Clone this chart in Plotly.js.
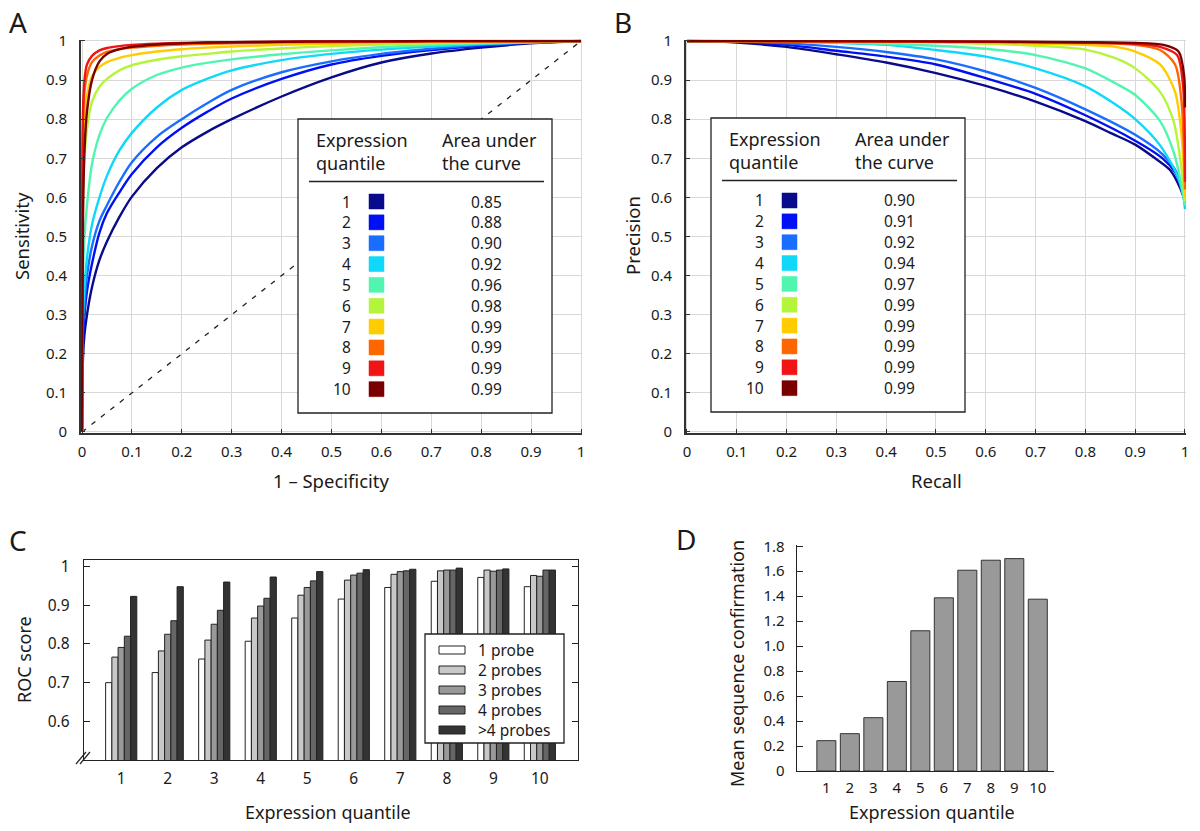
<!DOCTYPE html>
<html><head><meta charset="utf-8">
<script src="https://cdn.plot.ly/plotly-3.0.1.min.js"></script>
<style>html,body{margin:0;padding:0;background:#fff}#chart{width:1200px;height:831px}</style>
</head><body><div id="chart"></div>
<script>
// ---------------- DATA ----------------
const quantiles = [1, 2, 3, 4, 5, 6, 7, 8, 9, 10];
const quantileColors = ['#0a0a8c', '#0010f5', '#1a6eff', '#10d8f8', '#50f5b0', '#b4f53c', '#ffcc00', '#ff6600', '#f01414', '#7a0000'];
const aucROC = ['0.85', '0.88', '0.90', '0.92', '0.96', '0.98', '0.99', '0.99', '0.99', '0.99'];
const aucPR  = ['0.90', '0.91', '0.92', '0.94', '0.97', '0.99', '0.99', '0.99', '0.99', '0.99'];

// Panel A: ROC curves, sensitivity read at these values of 1 - specificity
const rocFpr    = [0, 0.002, 0.005, 0.01, 0.02, 0.035, 0.05, 0.075, 0.1, 0.15, 0.2, 0.25, 0.3, 0.4, 0.5, 0.6, 0.7, 0.8, 0.9, 1];
const rocQ1Tpr  = [0, 0.19, 0.25, 0.30, 0.37, 0.44, 0.487, 0.55, 0.602, 0.675, 0.728, 0.767, 0.80, 0.858, 0.907, 0.945, 0.968, 0.983, 0.994, 1];
const rocQ2Tpr  = [0, 0.24, 0.30, 0.36, 0.43, 0.51, 0.56, 0.613, 0.66, 0.728, 0.778, 0.818, 0.853, 0.903, 0.94, 0.962, 0.977, 0.988, 0.996, 1];
const rocQ3Tpr  = [0, 0.27, 0.33, 0.40, 0.475, 0.54, 0.58, 0.64, 0.69, 0.755, 0.80, 0.84, 0.875, 0.92, 0.948, 0.967, 0.98, 0.99, 0.996, 1];
const rocQ4Tpr  = [0, 0.30, 0.37, 0.445, 0.53, 0.60, 0.655, 0.72, 0.765, 0.83, 0.875, 0.903, 0.925, 0.951, 0.967, 0.978, 0.986, 0.992, 0.997, 1];
const rocQ5Tpr  = [0, 0.40, 0.50, 0.58, 0.685, 0.76, 0.803, 0.848, 0.878, 0.913, 0.932, 0.944, 0.953, 0.966, 0.976, 0.984, 0.99, 0.994, 0.997, 1];
const rocQ6Tpr  = [0, 0.60, 0.70, 0.775, 0.845, 0.883, 0.903, 0.925, 0.938, 0.952, 0.961, 0.967, 0.973, 0.981, 0.987, 0.991, 0.994, 0.997, 0.999, 1];
const rocQ7Tpr  = [0, 0.70, 0.79, 0.862, 0.91, 0.934, 0.946, 0.957, 0.964, 0.973, 0.979, 0.983, 0.986, 0.99, 0.993, 0.995, 0.997, 0.998, 0.999, 1];
const rocQ8Tpr  = [0, 0.78, 0.87, 0.912, 0.946, 0.963, 0.972, 0.979, 0.983, 0.988, 0.991, 0.993, 0.994, 0.996, 0.997, 0.998, 0.999, 0.999, 1, 1];
const rocQ9Tpr  = [0, 0.82, 0.90, 0.94, 0.962, 0.976, 0.982, 0.987, 0.99, 0.993, 0.995, 0.996, 0.997, 0.998, 0.999, 0.999, 1, 1, 1, 1];
const rocQ10Tpr = [0, 0.55, 0.72, 0.82, 0.90, 0.948, 0.967, 0.979, 0.985, 0.991, 0.994, 0.996, 0.997, 0.998, 0.999, 0.999, 1, 1, 1, 1];
const chanceLine = [0, 1];

// Panel B: precision-recall curves
const prQ1Rec = [0, 0.05, 0.1, 0.2, 0.3, 0.4, 0.5, 0.6, 0.7, 0.8, 0.85, 0.9, 0.94, 0.97, 0.99, 1];
const prQ1Prec = [1, 0.999, 0.996, 0.985, 0.966, 0.945, 0.918, 0.885, 0.845, 0.795, 0.765, 0.735, 0.70, 0.67, 0.625, 0.59];
const prQ2Rec = [0, 0.1, 0.2, 0.3, 0.4, 0.5, 0.6, 0.7, 0.8, 0.9, 0.955, 0.98, 0.995, 1];
const prQ2Prec = [1, 0.998, 0.99, 0.975, 0.96, 0.94, 0.905, 0.865, 0.81, 0.745, 0.70, 0.665, 0.62, 0.59];
const prQ3Rec = [0, 0.1, 0.2, 0.3, 0.4, 0.5, 0.6, 0.7, 0.8, 0.9, 0.955, 0.985, 0.997, 1];
const prQ3Prec = [1, 0.999, 0.994, 0.985, 0.972, 0.953, 0.922, 0.88, 0.825, 0.76, 0.71, 0.66, 0.61, 0.58];
const prQ4Rec = [0, 0.2, 0.4, 0.5, 0.6, 0.7, 0.8, 0.86, 0.9, 0.95, 0.984, 0.997, 1];
const prQ4Prec = [1, 0.998, 0.99, 0.977, 0.96, 0.93, 0.884, 0.838, 0.80, 0.733, 0.657, 0.60, 0.57];
const prQ5Rec = [0, 0.3, 0.5, 0.6, 0.7, 0.8, 0.86, 0.9, 0.95, 0.977, 0.993, 1];
const prQ5Prec = [1, 0.997, 0.988, 0.98, 0.964, 0.93, 0.892, 0.862, 0.795, 0.717, 0.632, 0.58];
const prQ6Rec = [0, 0.4, 0.6, 0.7, 0.8, 0.86, 0.9, 0.95, 0.977, 0.993, 1];
const prQ6Prec = [1, 0.998, 0.993, 0.988, 0.978, 0.956, 0.93, 0.87, 0.795, 0.674, 0.59];
const prQ7Rec = [0, 0.5, 0.7, 0.8, 0.86, 0.9, 0.95, 0.98, 0.993, 1];
const prQ7Prec = [1, 0.997, 0.993, 0.99, 0.985, 0.973, 0.94, 0.87, 0.76, 0.6];
const prQ8Rec = [0, 0.5, 0.8, 0.9, 0.95, 0.98, 0.993, 1];
const prQ8Prec = [1, 0.998, 0.995, 0.99, 0.977, 0.94, 0.845, 0.62];
const prQ9Rec = [0, 0.5, 0.8, 0.9, 0.95, 0.984, 0.996, 1];
const prQ9Prec = [1, 0.999, 0.996, 0.993, 0.985, 0.964, 0.887, 0.64];
const prQ10Rec = [0, 0.5, 0.8, 0.9, 0.957, 0.987, 0.998, 1];
const prQ10Prec = [1, 0.999, 0.997, 0.995, 0.99, 0.973, 0.913, 0.83];

// Panel C: ROC score by number of probes
const probeGroups = ['1 probe', '2 probes', '3 probes', '4 probes', '>4 probes'];
const probeColors = ['#ffffff', '#c8c8c8', '#999999', '#666666', '#333333'];
const roc1Probe  = [0.700, 0.726, 0.761, 0.807, 0.867, 0.916, 0.946, 0.962, 0.972, 0.948];
const roc2Probes = [0.766, 0.782, 0.810, 0.867, 0.926, 0.965, 0.980, 0.989, 0.991, 0.977];
const roc3Probes = [0.791, 0.825, 0.851, 0.898, 0.946, 0.978, 0.987, 0.991, 0.988, 0.975];
const roc4Probes = [0.820, 0.860, 0.887, 0.918, 0.963, 0.983, 0.989, 0.991, 0.991, 0.991];
const rocMore4   = [0.923, 0.948, 0.960, 0.973, 0.987, 0.992, 0.993, 0.996, 0.994, 0.991];
const rocYTicks = [0.6, 0.7, 0.8, 0.9, 1];
const rocYTickText = ['0.6', '0.7', '0.8', '0.9', '1'];

// Panel D: mean sequence confirmation
const meanSeqConf = [0.243, 0.299, 0.427, 0.717, 1.123, 1.387, 1.608, 1.688, 1.701, 1.376];
const confTicks = [0, 0.2, 0.4, 0.6, 0.8, 1.0, 1.2, 1.4, 1.6, 1.8];
const confTickText = ['0', '0.2', '0.4', '0.6', '0.8', '1.0', '1.2', '1.4', '1.6', '1.8'];

// ---------------- LAYOUT HELPERS ----------------
const W = 1200, H = 831;
const X = px => px / W;
const Y = py => 1 - py / H;
const FONT = 'Noto Sans, sans-serif';
const TXT = '#1a1a1a';
const GRID = '#d8d8d8';
const AX = '#333333';

const rocY = [rocQ1Tpr, rocQ2Tpr, rocQ3Tpr, rocQ4Tpr, rocQ5Tpr, rocQ6Tpr, rocQ7Tpr, rocQ8Tpr, rocQ9Tpr, rocQ10Tpr];
const prX = [prQ1Rec, prQ2Rec, prQ3Rec, prQ4Rec, prQ5Rec, prQ6Rec, prQ7Rec, prQ8Rec, prQ9Rec, prQ10Rec];
const prY = [prQ1Prec, prQ2Prec, prQ3Prec, prQ4Prec, prQ5Prec, prQ6Prec, prQ7Prec, prQ8Prec, prQ9Prec, prQ10Prec];
const probeSeries = [roc1Probe, roc2Probes, roc3Probes, roc4Probes, rocMore4];

const traces = [];
traces.push({x: chanceLine, y: chanceLine, xaxis: 'x', yaxis: 'y', mode: 'lines',
  line: {color: '#222', width: 1.3, dash: '5px,7px'}, showlegend: false, hoverinfo: 'skip'});
quantiles.forEach((q, i) => {
  traces.push({x: rocFpr, y: rocY[i], xaxis: 'x', yaxis: 'y', mode: 'lines', name: 'Q' + q,
    line: {color: quantileColors[i], width: 2.4, shape: 'spline', smoothing: 0.9}, showlegend: false, hoverinfo: 'skip'});
});
quantiles.forEach((q, i) => {
  traces.push({x: prX[i], y: prY[i], xaxis: 'x2', yaxis: 'y2', mode: 'lines', name: 'Q' + q,
    line: {color: quantileColors[i], width: 2.4, shape: 'spline', smoothing: 0.8}, showlegend: false, hoverinfo: 'skip'});
});
probeGroups.forEach((g, i) => {
  traces.push({type: 'bar', x: quantiles, y: probeSeries[i], xaxis: 'x3', yaxis: 'y3', name: g,
    marker: {color: probeColors[i], line: {color: '#222', width: 1}}, showlegend: false, hoverinfo: 'skip'});
});
traces.push({type: 'bar', x: quantiles, y: meanSeqConf, xaxis: 'x4', yaxis: 'y4', width: 0.81,
  marker: {color: '#999999', line: {color: '#333', width: 1}}, showlegend: false, hoverinfo: 'skip'});

const tf = s => ({family: FONT, size: s, color: TXT});
const lineAxis = (domain, range, anchor, extra) => Object.assign({
  domain: domain, range: range, anchor: anchor, showgrid: true, gridcolor: GRID, gridwidth: 1,
  zeroline: false, showline: true, linecolor: AX, linewidth: 1.4, ticks: 'inside', ticklen: 4,
  tickcolor: AX, tickwidth: 1, tickfont: tf(15), tickmode: 'linear', tick0: 0, dtick: 0.1, fixedrange: true
}, extra || {});

const pad = 0.003;
const ax = v => 82 + 499 * v, ay = v => 432 - 391 * v;
const bx = v => 687 + 498 * v;

const layout = {
  width: W, height: H, margin: {l: 0, r: 0, t: 0, b: 0}, paper_bgcolor: '#fff', plot_bgcolor: 'rgba(0,0,0,0)',
  font: {family: FONT, color: TXT}, showlegend: false, barmode: 'group', bargap: 0.33, bargroupgap: 0,
  xaxis: lineAxis([X(ax(-pad)), X(ax(1 + pad))], [-pad, 1 + pad], 'y', {ticklabelstandoff: 4}),
  yaxis: lineAxis([Y(ay(-pad)), Y(ay(1 + pad))], [-pad, 1 + pad], 'x', {ticklabelstandoff: 9}),
  xaxis2: lineAxis([X(bx(-pad)), X(bx(1 + pad))], [-pad, 1 + pad], 'y2', {ticklabelstandoff: 4}),
  yaxis2: lineAxis([Y(ay(-pad)), Y(ay(1 + pad))], [-pad, 1 + pad], 'x2', {ticklabelstandoff: 9}),
  xaxis3: {domain: [X(84), X(578)], range: [0.2, 10.82], anchor: 'y3', showgrid: false, zeroline: false,
    showline: true, mirror: true, linecolor: '#222', linewidth: 1.3, ticks: '', tickmode: 'array',
    tickvals: quantiles, tickfont: tf(15.5), ticklabelstandoff: 4, fixedrange: true},
  yaxis3: {domain: [Y(760), Y(560)], range: [0.5, 1.017], anchor: 'x3', showgrid: false, zeroline: false,
    showline: true, mirror: 'ticks', linecolor: '#222', linewidth: 1.3, ticks: 'inside', ticklen: 6,
    tickcolor: '#222', tickmode: 'array', tickvals: rocYTicks, ticktext: rocYTickText, tickfont: tf(15.5),
    ticklabelstandoff: 10, fixedrange: true},
  xaxis4: {domain: [X(797), X(1054)], range: [-0.25, 10.69], anchor: 'y4', showgrid: false, zeroline: false,
    showline: true, linecolor: '#222', linewidth: 1.3, ticks: '', tickmode: 'array', tickvals: quantiles,
    tickfont: tf(15), ticklabelstandoff: 3, fixedrange: true},
  yaxis4: {domain: [Y(771), Y(545)], range: [0, 1.81], anchor: 'x4', showgrid: false, zeroline: false,
    showline: true, linecolor: '#222', linewidth: 1.3, ticks: 'inside', ticklen: 6, tickcolor: '#222',
    tickmode: 'array', tickvals: confTicks, ticktext: confTickText, tickfont: tf(15),
    ticklabelstandoff: 8, fixedrange: true},
  shapes: [], annotations: []
};

function ann(text, px, py, size, opts) {
  layout.annotations.push(Object.assign({text: text, x: X(px), y: Y(py), xref: 'paper', yref: 'paper',
    showarrow: false, xanchor: 'center', yanchor: 'middle', font: tf(size)}, opts || {}));
}
function rect(x0, y0, x1, y1, fill, lineColor, lw) {
  layout.shapes.push({type: 'rect', xref: 'paper', yref: 'paper', x0: X(x0), x1: X(x1), y0: Y(y1), y1: Y(y0),
    fillcolor: fill, line: {color: lineColor, width: lw}, layer: 'above'});
}
function hline(x0, x1, y, lw) {
  layout.shapes.push({type: 'line', xref: 'paper', yref: 'paper', x0: X(x0), x1: X(x1), y0: Y(y), y1: Y(y),
    line: {color: '#222', width: lw}, layer: 'above'});
}

// panel letters
ann('A', 18, 22, 28); ann('B', 623, 22, 28); ann('C', 18, 540, 28); ann('D', 686, 539, 28);
// axis titles
ann('Sensitivity', 22, 236, 18.5, {textangle: -90});
ann('1 – Specificity', 331, 480, 18.5);
ann('Precision', 633, 236, 18.5, {textangle: -90});
ann('Recall', 936, 480, 18.5);
ann('ROC score', 24, 660, 18, {textangle: -90});
ann('Expression quantile', 328, 812, 18);
ann('Mean sequence confirmation', 737, 664, 18, {textangle: -90});
ann('Expression quantile', 932, 812, 18);

// quantile tables (A and B)
function quantileTable(left, top, values) {
  rect(left, top, left + 254, top + 294, '#ffffff', '#222', 1.3);
  ann('Expression', left + 16, top + 21, 18, {xanchor: 'left'});
  ann('quantile', left + 16, top + 44, 18, {xanchor: 'left'});
  ann('Area under', left + 142, top + 21, 18, {xanchor: 'left'});
  ann('the curve', left + 142, top + 44, 18, {xanchor: 'left'});
  hline(left + 11, left + 246, top + 62.5, 1.3);
  quantiles.forEach((q, i) => {
    const yy = top + 82.5 + i * 20.85;
    ann(String(q), left + 55, yy, 15.5, {xanchor: 'right'});
    rect(left + 71, yy - 7.5, left + 86, yy + 7.5, quantileColors[i], quantileColors[i], 0.5);
    ann(values[i], left + 188, yy, 15.5);
  });
}
quantileTable(298, 119, aucROC);
quantileTable(711, 118, aucPR);

// legend for panel C
rect(425, 634, 564, 743, '#ffffff', '#222', 1.3);
probeGroups.forEach((g, i) => {
  const yy = 650 + i * 20;
  rect(439, yy - 4, 465, yy + 4, probeColors[i], '#222', 1);
  ann(g.replace('>', '&gt;'), 476, yy, 15.5, {xanchor: 'left'});
});
// axis break mark on panel C
layout.shapes.push({type: 'line', xref: 'paper', yref: 'paper', x0: X(76), y0: Y(764), x1: X(86), y1: Y(752), line: {color: '#222', width: 1.2}, layer: 'above'});
layout.shapes.push({type: 'line', xref: 'paper', yref: 'paper', x0: X(80), y0: Y(764), x1: X(90), y1: Y(752), line: {color: '#222', width: 1.2}, layer: 'above'});

Plotly.newPlot('chart', traces, layout, {displayModeBar: false, staticPlot: true});
</script></body></html>
